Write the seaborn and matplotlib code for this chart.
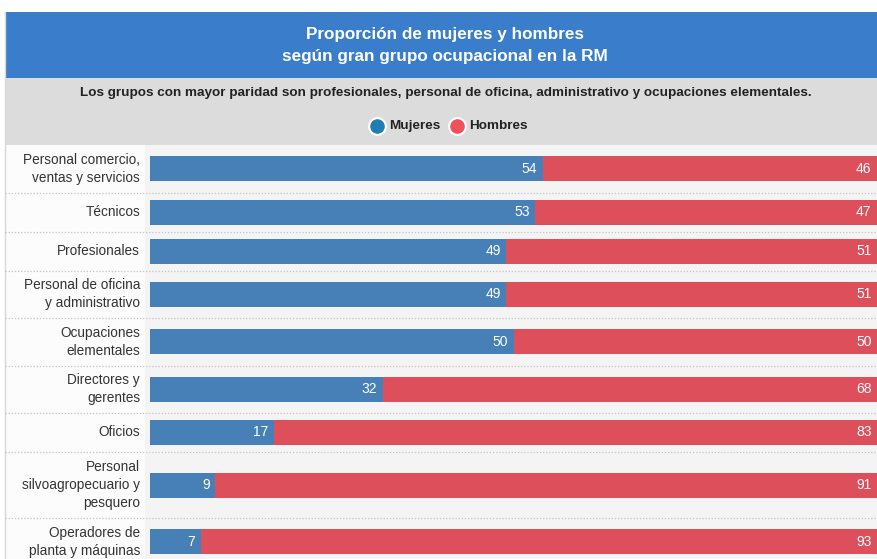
import numpy as np
import pandas as pd
import matplotlib
matplotlib.use("Agg")
import matplotlib.pyplot as plt
import seaborn as sns
from matplotlib.patches import Rectangle
from matplotlib.lines import Line2D

# ---------------- data ----------------
categories = [
    "Personal comercio,\nventas y servicios",
    "Técnicos",
    "Profesionales",
    "Personal de oficina\ny administrativo",
    "Ocupaciones\nelementales",
    "Directores y\ngerentes",
    "Oficios",
    "Personal\nsilvoagropecuario y\npesquero",
    "Operadores de\nplanta y máquinas",
]
mujeres = [54, 53, 49, 49, 50, 32, 17, 9, 7]
hombres = [46, 47, 51, 51, 50, 68, 83, 91, 93]
series_names = ["Mujeres", "Hombres"]
title_lines = ["Proporción de mujeres y hombres",
               "según gran grupo ocupacional en la RM"]
subtitle = ("Los grupos con mayor paridad son profesionales, personal de oficina, "
            "administrativo y ocupaciones elementales.")

# ---------------- style ----------------
W, H = 877, 559
C_BLUE = "#4680b6"
C_RED = "#dc4f5b"
C_LEG_BLUE = "#1f7db3"
C_LEG_RED = "#f04f5e"
C_BANNER = "#3a7dca"
C_BAND = "#dcdcdc"

sns.set_theme(style="white")
plt.rcParams["font.family"] = ["Liberation Sans", "DejaVu Sans"]

fig = plt.figure(figsize=(W / 100, H / 100), dpi=100)
fig.patch.set_facecolor("white")


def fx(x):
    return x / W


def fy(y):
    return 1 - y / H


def rect(x0, y0, x1, y1, color, z=0):
    fig.add_artist(Rectangle((fx(x0), fy(y1)), (x1 - x0) / W, (y1 - y0) / H,
                             transform=fig.transFigure, facecolor=color,
                             edgecolor="none", zorder=z))


# backgrounds
rect(5, 12, W, 78, C_BANNER)
rect(5, 78, W, 145, C_BAND)
rect(5, 145, 145, H, "#fcfcfc")
rect(145, 145, W, H, "#f4f4f4")
fig.add_artist(Line2D([fx(5), fx(5)], [fy(12), fy(H)], transform=fig.transFigure,
                      color="#d8d8d8", lw=1, zorder=1))

# titles
fig.text(fx(445), fy(35), title_lines[0], ha="center", va="center",
         color="white", fontsize=12.3, fontweight="bold")
fig.text(fx(445), fy(56), title_lines[1], ha="center", va="center",
         color="white", fontsize=12.3, fontweight="bold")
fig.text(fx(446), fy(93), subtitle, ha="center", va="center",
         color="#222222", fontsize=9.7, fontweight="bold")

# legend
for cx, tx, col, name in [(377, 389, C_LEG_BLUE, series_names[0]),
                          (457, 469, C_LEG_RED, series_names[1])]:
    fig.add_artist(Line2D([fx(cx)], [fy(126)], transform=fig.transFigure,
                          marker="o", markersize=12, markerfacecolor=col,
                          markeredgecolor="white", markeredgewidth=1.5,
                          linestyle="none", zorder=3))
    fig.text(fx(tx), fy(126), name, ha="left", va="center", color="#222222",
             fontsize=9.7, fontweight="bold")

# ---------------- rows layout ----------------
n_lines = [c.count("\n") + 1 for c in categories]
row_h = {1: 39, 2: 47.5, 3: 66}
heights = np.array([row_h[n] for n in n_lines])
tops = 145 + np.concatenate([[0], np.cumsum(heights)[:-1]])
centers = tops + heights / 2
bar_px = 25
min_gap = np.diff(np.sort(centers)).min()

df = pd.DataFrame({
    "pos": centers,
    "categoria": categories,
    "Mujeres": mujeres,
    "Total": np.array(mujeres) + np.array(hombres),
    "Hombres": hombres,
})

ax = fig.add_axes([fx(145), 0, (W - 145) / W, (H - 145) / H])
ax.patch.set_alpha(0)
sns.barplot(data=df, x="Total", y="pos", orient="h", native_scale=True,
            width=bar_px / min_gap, color=C_RED, saturation=1,
            errorbar=None, ax=ax, linewidth=0)
sns.barplot(data=df, x="Mujeres", y="pos", orient="h", native_scale=True,
            width=bar_px / min_gap, color=C_BLUE, saturation=1,
            errorbar=None, ax=ax, linewidth=0)

unit_px = (W - 150) / 100.0
ax.set_xlim(-5 / unit_px, 100)
ax.set_ylim(H, 145)
ax.set_axis_off()

pad = 5.5 / unit_px
for _, r in df.iterrows():
    ax.text(r["Mujeres"] - pad, r["pos"], str(r["Mujeres"]), ha="right",
            va="center", color="white", fontsize=10)
    ax.text(r["Total"] - pad, r["pos"], str(r["Hombres"]), ha="right",
            va="center", color="white", fontsize=10)
    fig.text(fx(140), fy(r["pos"]), r["categoria"], ha="right", va="center",
             multialignment="right", color="#333333", fontsize=9.8,
             linespacing=1.38)

# dotted separators
for b in (tops[1:]):
    fig.add_artist(Line2D([fx(5), fx(W)], [fy(b), fy(b)], transform=fig.transFigure,
                          color="#c4c4c4", lw=0.9, linestyle=(0, (1, 1.5)), zorder=2))

fig.savefig("out.png", dpi=100)
